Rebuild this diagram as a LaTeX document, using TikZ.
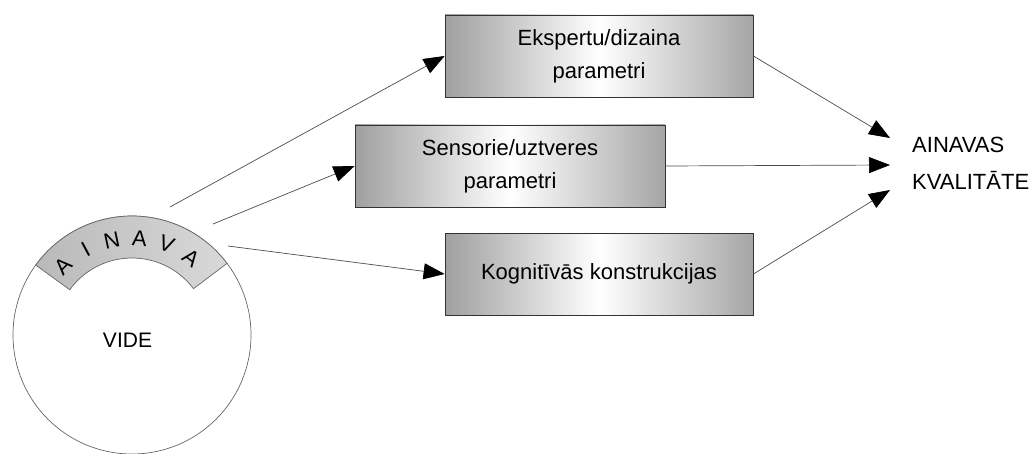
\documentclass[tikz,border=0pt]{standalone}
\usepackage{fontspec}
\setmainfont{Liberation Sans}
\usetikzlibrary{arrows.meta,positioning,calc}

\tikzset{
  parambox/.style={draw=black!80,line width=0.8pt,left color=gray!75,right color=gray!70,middle color=white,
    minimum width=308pt,minimum height=82pt,inner sep=0pt,align=center,font=\fontsize{22}{33}\selectfont},
  flow/.style={draw=black!70,line width=0.7pt,-{Triangle[length=21pt,width=16pt,color=black]}},
  bandletter/.style={font=\fontsize{22}{24}\selectfont,inner sep=0pt}
}

\begin{document}
\begin{tikzpicture}[x=1pt,y=1pt]
    \useasboundingbox (0,0) rectangle (1030,453);

    % Environment circle
    \node[circle,draw=black!60,line width=0.7pt,minimum size=238pt,inner sep=0pt] (env) at (132,118) {};
    \node[font=\fontsize{21}{24}\selectfont] (vide) at (127.5,113) {VIDE};

    % Landscape band on the circle
    \shade[left color=gray!55,middle color=gray!22,right color=gray!30,draw=black!60,line width=0.7pt]
      ([shift={(37:119pt)}]env.center) arc[start angle=37,end angle=144,radius=119pt]
      -- ([shift={(144:77pt)}]env.center) arc[start angle=144,end angle=37,radius=77pt] -- cycle;
    \foreach \l [count=\i] in {A,I,N,A,V,A} {
      \pgfmathsetmacro\ang{135-16.5*(\i-1)}
      \node[bandletter,rotate=\ang-90] (letter\i) at ([shift={(\ang:97pt)}]env.center) {\l};
    }

    % Parameter boxes
    \node[parambox] (expert) at (599,397) {Ekspertu/dizaina\\parametri};
    \node[parambox,minimum width=310pt] (sensor) at (510,287) {Sensorie/uztveres\\parametri};
    \node[parambox] (cognit) at (599,179) {Kognitīvās konstrukcijas};

    % Result
    \node[anchor=west,align=left,inner sep=0pt,font=\fontsize{22}{37}\selectfont] (quality) at (912,289.5) {AINAVAS\\KVALITĀTE};

    % Connector ends
    \coordinate (out1) at (170,246);
    \coordinate (out2) at (213,229);
    \coordinate (out3) at (228,207);
    \coordinate (tip1) at (890,315);
    \coordinate (tip2) at (890,288);
    \coordinate (tip3) at (890,263);

    % Connectors
    \draw[flow] (out1) -- (expert.west);
    \draw[flow] (out2) -- (sensor.west);
    \draw[flow] (out3) -- (cognit.west);
    \draw[flow] (expert.east) -- (tip1);
    \draw[flow] (sensor.east) -- (tip2);
    \draw[flow] (cognit.east) -- (tip3);
\end{tikzpicture}
\end{document}
